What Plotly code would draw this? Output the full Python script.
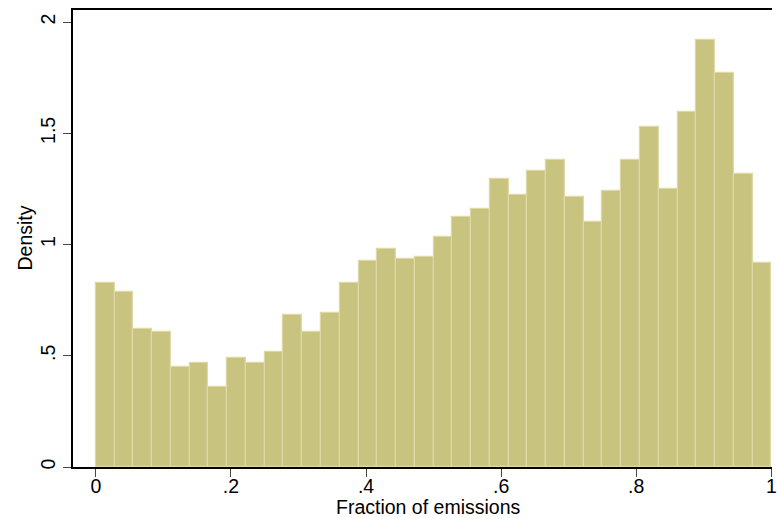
import numpy as np
import plotly.graph_objects as go

# Histogram of emission fractions: 36 equal-width bins on [0, 1]
n_bins = 36
bin_width = 1.0 / n_bins
density = [
    0.828, 0.786, 0.619, 0.605, 0.448, 0.468, 0.360, 0.489, 0.468,
    0.519, 0.682, 0.605, 0.690, 0.826, 0.928, 0.978, 0.934, 0.942,
    1.036, 1.122, 1.158, 1.293, 1.221, 1.329, 1.380, 1.213, 1.099,
    1.242, 1.380, 1.529, 1.251, 1.596, 1.919, 1.770, 1.315, 0.919,
]
bin_left = np.arange(n_bins) * bin_width

x_tickvals = [0, 0.2, 0.4, 0.6, 0.8, 1.0]
x_ticktext = ["0", ".2", ".4", ".6", ".8", "1"]
y_tickvals = [0, 0.5, 1, 1.5, 2]
y_ticktext = ["0", ".5", "1", "1.5", "2"]

FONT = "Liberation Sans, Arial, sans-serif"
FILL = "rgb(201,195,128)"
EDGE = "rgb(222,217,165)"

fig = go.Figure(
    go.Bar(
        x=bin_left,
        y=density,
        width=bin_width,
        offset=0,
        marker=dict(color=FILL, line=dict(color=EDGE, width=1.2)),
        hoverinfo="skip",
    )
)

fig.update_layout(
    width=777,
    height=519,
    margin=dict(l=73, r=0, t=10, b=52),
    paper_bgcolor="white",
    plot_bgcolor="white",
    bargap=0,
    showlegend=False,
    font=dict(family=FONT, size=19.5, color="black"),
)

fig.update_xaxes(
    range=[-0.0338, 1.001],
    tickvals=x_tickvals,
    ticktext=x_ticktext,
    ticks="outside",
    ticklen=8,
    tickwidth=1.3,
    tickcolor="rgb(70,70,70)",
    ticklabelstandoff=-7,
    ticklabeloverflow="allow",
    showline=True,
    linecolor="black",
    linewidth=1.5,
    mirror=True,
    showgrid=False,
    zeroline=False,
    tickfont=dict(family=FONT, size=19.5, color="black"),
)

fig.update_yaxes(
    range=[0, 2.054],
    tickvals=y_tickvals,
    ticktext=y_ticktext,
    tickangle=-90,
    ticks="outside",
    ticklen=8,
    tickwidth=1.3,
    tickcolor="rgb(70,70,70)",
    showline=True,
    linecolor="black",
    linewidth=1.5,
    showgrid=False,
    zeroline=False,
    tickfont=dict(family=FONT, size=19.5, color="black"),
)

# Axis titles
fig.add_annotation(
    text="Fraction of emissions",
    xref="paper", yref="paper",
    x=0.508, y=0, yshift=-53,
    xanchor="center", yanchor="bottom",
    showarrow=False,
    font=dict(family=FONT, size=19.5, color="black"),
)
fig.add_annotation(
    text="Density",
    xref="paper", yref="paper",
    x=0, xshift=-49, y=0.5,
    xanchor="center", yanchor="middle",
    textangle=-90,
    showarrow=False,
    font=dict(family=FONT, size=19.5, color="black"),
)

fig.write_html("out.html")
